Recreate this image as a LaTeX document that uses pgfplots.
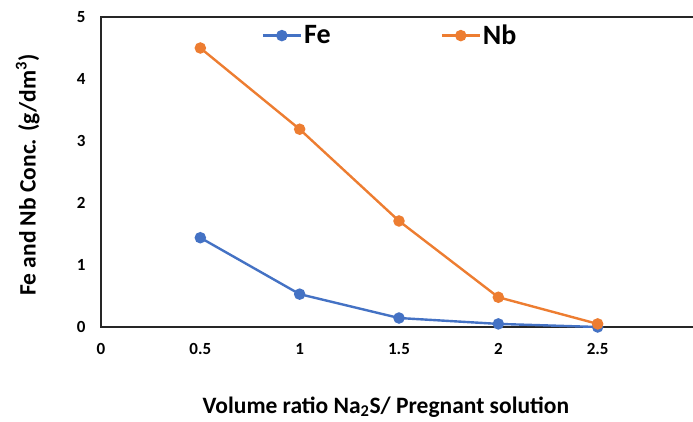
\documentclass[border=0pt]{standalone}
\usepackage{pgfplots}
\pgfplotsset{compat=1.18}
\usepackage{fontspec}
\setmainfont{Carlito}
\definecolor{feblue}{HTML}{4472C4}
\definecolor{nborange}{HTML}{ED7D31}
\begin{document}
\begin{tikzpicture}
\useasboundingbox (-101pt,-94pt) rectangle (592pt,327pt);
\clip (-101pt,-94pt) rectangle (592pt,327pt);
\begin{axis}[
width=596pt, height=310pt,
scale only axis,
at={(0,0)}, anchor=south west,
xmin=0, xmax=3,
ymin=0, ymax=5,
xtick={0,0.5,...,3},
ytick={0,1,...,5},
major tick length=0pt,
axis line style={line width=1.2pt, black!85},
tick label style={font=\fontsize{17}{20}\selectfont\bfseries},
/pgf/number format/assume math mode=true,
xticklabel style={yshift=-13pt},
yticklabel style={xshift=-12pt},
xlabel={Volume ratio Na\textsubscript{2}S/ Pregnant solution},
ylabel={Fe and Nb Conc. (g/dm\textsuperscript{3})},
label style={font=\fontsize{23.5}{26}\selectfont\bfseries},
xlabel style={at={(axis description cs:0.478,-0.258)}, anchor=center},
ylabel style={at={(axis description cs:-0.123,0.49)}, anchor=center, rotate=0},
legend style={at={(axis description cs:0.485,0.94)}, anchor=center, draw=none, fill=none,
  legend columns=2, font=\fontsize{28}{30}\selectfont\bfseries,
  /tikz/every even column/.append style={column sep=108pt}},
legend image code/.code={
  \draw[#1, mark repeat=2, mark phase=2] plot coordinates {(0pt,0pt) (19pt,0pt) (38pt,0pt)};},
]
\addplot[color=feblue, line width=2.4pt, mark=*, mark size=4.5pt, mark options={solid}]
  coordinates {(0.5,1.44) (1,0.53) (1.5,0.145) (2,0.05) (2.5,0.0)};
\addlegendentry{Fe}
\addplot[color=nborange, line width=2.4pt, mark=*, mark size=4.5pt, mark options={solid}]
  coordinates {(0.5,4.5) (1,3.19) (1.5,1.71) (2,0.48) (2.5,0.05)};
\addlegendentry{Nb}
\end{axis}
\end{tikzpicture}
\end{document}
